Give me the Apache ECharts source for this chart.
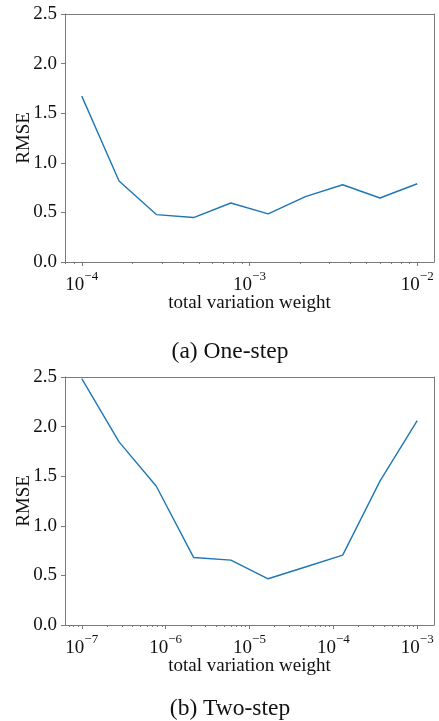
<!DOCTYPE html>
<html>
<head>
<meta charset="utf-8">
<script src="https://cdn.jsdelivr.net/npm/echarts@6/dist/echarts.min.js"></script>
<style>
html,body{margin:0;padding:0;background:#fff;}
#c{width:439px;height:721px;}
</style>
</head>
<body>
<div id="c"></div>
<script>
// Top panel (a) One-step
var xOne = [1.0e-4, 1.668e-4, 2.783e-4, 4.642e-4, 7.743e-4, 1.292e-3, 2.154e-3, 3.594e-3, 5.995e-3, 1.0e-2];
var yOne = [1.672, 0.816, 0.478, 0.448, 0.595, 0.485, 0.659, 0.779, 0.645, 0.789];
// Bottom panel (b) Two-step
var xTwo = [1.0e-7, 2.783e-7, 7.743e-7, 2.154e-6, 5.995e-6, 1.668e-5, 4.642e-5, 1.292e-4, 3.594e-4, 1.0e-3];
var yTwo = [2.483, 1.846, 1.399, 0.681, 0.654, 0.466, 0.585, 0.705, 1.450, 2.060];
var majorOne = [1e-4, 1e-3, 1e-2];
var majorTwo = [1e-7, 1e-6, 1e-5, 1e-4, 1e-3];
var yTicks = [0, 0.5, 1.0, 1.5, 2.0, 2.5];
var xName = 'total variation weight';
var yName = 'RMSE';
var captions = ['(a) One-step', '(b) Two-step'];

function minorTicks(lo, hi) {
  var out = [];
  for (var e = Math.floor(Math.log10(lo)); e <= Math.ceil(Math.log10(hi)); e++) {
    for (var m = 2; m <= 9; m++) {
      var v = m * Math.pow(10, e);
      if (v >= lo && v <= hi) out.push(v);
    }
  }
  return out;
}

var FONT = '"Liberation Serif", "DejaVu Serif", serif';
var AXC = '#7a7a7a';
var TXT = '#111';
var rangeOne = [Math.pow(10, -4.1), Math.pow(10, -1.9)];
var rangeTwo = [Math.pow(10, -7.2), Math.pow(10, -2.8)];

function supLabel(v) {
  var e = Math.round(Math.log10(v));
  return '{b|10}{s|' + (e < 0 ? '\u2212' + (-e) : e) + '}';
}

var grids = [
  {left: 65, width: 369, top: 14, height: 248, outerBoundsMode: 'none', containLabel: false},
  {left: 65, width: 369, top: 377, height: 248, outerBoundsMode: 'none', containLabel: false}
];

function xAxes(gi, range, majors) {
  return [
    {
      type: 'log', gridIndex: gi, logBase: 10, min: range[0], max: range[1],
      name: xName, nameLocation: 'middle', nameGap: 32, nameMoveOverlap: false,
      nameTextStyle: {fontFamily: FONT, fontSize: 19, color: TXT},
      axisLine: {show: true, lineStyle: {color: AXC, width: 1}},
      axisTick: {show: true, inside: false, length: 4, lineStyle: {color: AXC}, customValues: majors},
      axisLabel: {
        show: true, margin: 3, customValues: majors, formatter: supLabel,
        rich: {
          b: {fontFamily: FONT, fontSize: 19, color: TXT, padding: [11, 0, 0, 0]},
          s: {fontFamily: FONT, fontSize: 13, color: TXT, padding: [0, 0, 7, 0]}
        }
      },
      splitLine: {show: false}, minorTick: {show: false}
    },
    {
      type: 'log', gridIndex: gi, logBase: 10, min: range[0], max: range[1], position: 'bottom',
      axisLine: {show: false},
      axisTick: {show: true, inside: false, length: 2, lineStyle: {color: AXC}, customValues: minorTicks(range[0], range[1])},
      axisLabel: {show: false},
      splitLine: {show: false}
    },
    {
      type: 'log', gridIndex: gi, logBase: 10, min: range[0], max: range[1], position: 'top',
      axisLine: {show: true, lineStyle: {color: AXC, width: 1}},
      axisTick: {show: false}, axisLabel: {show: false}, splitLine: {show: false}
    }
  ];
}

function yAxes(gi) {
  return [
    {
      type: 'value', gridIndex: gi, min: 0, max: 2.5, interval: 0.5,
      name: yName, nameLocation: 'middle', nameGap: 31, nameRotate: 90, nameMoveOverlap: false,
      nameTextStyle: {fontFamily: FONT, fontSize: 19, color: TXT},
      axisLine: {show: true, lineStyle: {color: AXC, width: 1}},
      axisTick: {show: true, inside: false, length: 4, lineStyle: {color: AXC}},
      axisLabel: {margin: 8, fontFamily: FONT, fontSize: 19, color: TXT,
        formatter: function (v) { return v.toFixed(1); }},
      splitLine: {show: false}
    },
    {
      type: 'value', gridIndex: gi, min: 0, max: 2.5, interval: 0.5, position: 'right',
      axisLine: {show: true, lineStyle: {color: AXC, width: 1}},
      axisTick: {show: false}, axisLabel: {show: false}, splitLine: {show: false}
    }
  ];
}

var xa = xAxes(0, rangeOne, majorOne).concat(xAxes(1, rangeTwo, majorTwo));
var ya = yAxes(0).concat(yAxes(1));

function pairs(xs, ys) { return xs.map(function (x, i) { return [x, ys[i]]; }); }

var option = {
  animation: false,
  backgroundColor: '#fff',
  title: [
    {text: captions[0], left: 225, textAlign: 'center', top: 335,
      textStyle: {fontFamily: FONT, fontSize: 23.5, fontWeight: 'normal', color: TXT}},
    {text: captions[1], left: 225, textAlign: 'center', top: 692,
      textStyle: {fontFamily: FONT, fontSize: 23.5, fontWeight: 'normal', color: TXT}}
  ],
  grid: grids,
  xAxis: xa,
  yAxis: ya,
  series: [
    {type: 'line', xAxisIndex: 0, yAxisIndex: 0, data: pairs(xOne, yOne), showSymbol: false,
      lineStyle: {color: '#1f77b4', width: 1.4}, itemStyle: {color: '#1f77b4'}},
    {type: 'line', xAxisIndex: 3, yAxisIndex: 2, data: pairs(xTwo, yTwo), showSymbol: false,
      lineStyle: {color: '#1f77b4', width: 1.4}, itemStyle: {color: '#1f77b4'}}
  ]
};
var chart = echarts.init(document.getElementById('c'), null, {renderer: 'canvas'});
chart.setOption(option);
</script>
</body>
</html>
